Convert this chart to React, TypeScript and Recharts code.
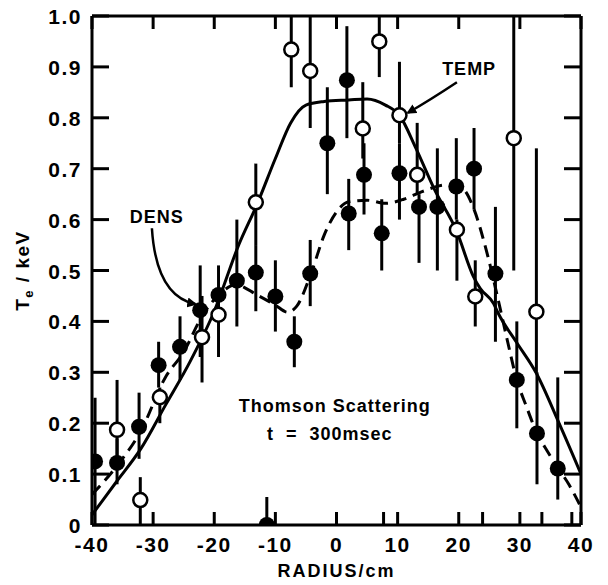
import { ComposedChart, Line, Scatter, ErrorBar, XAxis, YAxis, ReferenceLine } from 'recharts';

// filled circles
const filledX = [-39.5, -35.9, -32.3, -29.1, -25.6, -22.3, -19.3, -16.3, -13.2, -11.4, -10.0, -6.9, -4.3, -1.5, 1.7, 2.0, 4.5, 7.4, 10.3, 13.5, 16.5, 19.6, 22.5, 26.0, 29.5, 32.8, 36.2];
const filledY = [0.125, 0.122, 0.193, 0.314, 0.35, 0.422, 0.452, 0.48, 0.496, 0.0, 0.449, 0.36, 0.494, 0.75, 0.874, 0.612, 0.688, 0.573, 0.691, 0.625, 0.625, 0.665, 0.7, 0.494, 0.285, 0.18, 0.111];
const filledLo = [0.0, 0.08, 0.13, 0.27, 0.285, 0.33, 0.4, 0.39, 0.42, 0.0, 0.38, 0.31, 0.43, 0.65, 0.76, 0.54, 0.61, 0.5, 0.6, 0.515, 0.5, 0.6, 0.62, 0.36, 0.19, 0.08, 0.05];
const filledHi = [0.25, 0.17, 0.26, 0.36, 0.41, 0.51, 0.51, 0.6, 0.55, 0.055, 0.52, 0.41, 0.56, 0.86, 0.98, 0.68, 0.75, 0.64, 0.75, 0.65, 0.74, 0.76, 0.78, 0.625, 0.4, 0.3, 0.29];

// open circles
const openX = [-35.9, -32.1, -28.9, -22.0, -19.3, -13.2, -7.4, -4.3, 4.3, 7.0, 10.3, 13.2, 19.7, 22.7, 29.0, 32.7];
const openY = [0.187, 0.049, 0.251, 0.369, 0.413, 0.634, 0.934, 0.892, 0.779, 0.95, 0.805, 0.688, 0.58, 0.449, 0.76, 0.419];
const openLo = [0.12, 0.0, 0.2, 0.28, 0.33, 0.55, 0.86, 0.78, 0.72, 0.88, 0.75, 0.65, 0.48, 0.39, 0.5, 0.3];
const openHi = [0.285, 0.094, 0.27, 0.45, 0.44, 0.71, 1.0, 1.0, 0.87, 1.0, 0.91, 0.79, 0.6, 0.52, 1.0, 0.74];

// TEMP (solid) curve
const tempX = [-40, -36, -32, -28, -24, -20, -16, -13, -10, -7.5, -5, -2, 2, 5, 8, 10.3, 13, 16, 19.7, 22.4, 23.5, 25.7, 26.5, 29.5, 32.7, 36.3, 40];
const tempY = [0.02, 0.085, 0.15, 0.235, 0.32, 0.42, 0.55, 0.63, 0.72, 0.79, 0.825, 0.832, 0.835, 0.837, 0.825, 0.805, 0.74, 0.66, 0.576, 0.488, 0.465, 0.435, 0.415, 0.358, 0.298, 0.203, 0.1];

// DENS (dashed) curve
const densX = [-40, -36, -32, -28, -25, -22, -19, -16.5, -13, -10, -8, -6.5, -4, -2, 0, 2, 5, 8, 11, 14, 18, 20.5, 22.5, 24.5, 26.5, 28, 29.5, 31, 32.7, 34.5, 36.3, 38, 40];
const densY = [0.06, 0.115, 0.185, 0.29, 0.34, 0.41, 0.455, 0.472, 0.452, 0.432, 0.418, 0.43, 0.5, 0.57, 0.615, 0.635, 0.638, 0.632, 0.64, 0.655, 0.668, 0.662, 0.62, 0.54, 0.44, 0.36, 0.285, 0.235, 0.183, 0.145, 0.111, 0.08, 0.035];

const xTicks = [-40, -30, -20, -10, 0, 7.7, 10, 20, 23.9, 30, 33.6, 38.5, 40];
const xLabels = [-40, -30, -20, -10, 0, 10, 20, 30, 40];
const yTicks = [0, 0.1, 0.2, 0.3, 0.4, 0.5, 0.6, 0.7, 0.8, 0.9, 1.0];
const yTickLabels = ['0', '0.1', '0.2', '0.3', '0.4', '0.5', '0.6', '0.7', '0.8', '0.9', '1.0'];

const W = 608;
const H = 585;
const M = { top: 16, right: 27, bottom: 30, left: 42 };
const Y_AXIS_W = 50;
const X_AXIS_H = 30;
const PLOT_L = M.left + Y_AXIS_W;
const PLOT_T = M.top;
const PLOT_W = W - PLOT_L - M.right;
const PLOT_H = H - M.top - M.bottom - X_AXIS_H;

const FONT = "'Liberation Sans', Arial, sans-serif";

const px = (x: number) => PLOT_L + ((x + 40) / 80) * PLOT_W;
const py = (y: number) => PLOT_T + (1 - y) * PLOT_H;

const filledData = filledX.map((x, i) => ({ x, y: filledY[i], err: [filledY[i] - filledLo[i], filledHi[i] - filledY[i]] }));
const openData = openX.map((x, i) => ({ x, y: openY[i], err: [openY[i] - openLo[i], openHi[i] - openY[i]] }));
const tempData = tempX.map((x, i) => ({ x, y: tempY[i] }));
const densData = densX.map((x, i) => ({ x, y: densY[i] }));

const XTick = (props: any) => {
  const { x, y, payload } = props;
  const major = xLabels.includes(payload.value);
  return (
    <g>
      <line x1={x} x2={x} y1={y} y2={y - 13} stroke="#000" strokeWidth={3} />
      {major && <line x1={x} x2={x} y1={PLOT_T} y2={PLOT_T + 13} stroke="#000" strokeWidth={3} />}
      {major && (
        <text x={x} y={y + 27} textAnchor="middle" fontFamily={FONT} fontWeight="bold" fontSize={21} letterSpacing={1.5} fill="#000">
          {payload.value}
        </text>
      )}
    </g>
  );
};

const YTick = (props: any) => {
  const { x, y, payload } = props;
  const idx = yTicks.indexOf(payload.value);
  return (
    <g>
      <line x1={x} x2={x + 17} y1={y} y2={y} stroke="#000" strokeWidth={3} />
      <line x1={x + PLOT_W - 17} x2={x + PLOT_W} y1={y} y2={y} stroke="#000" strokeWidth={3} />
      <text x={x - 10} y={y + 8} textAnchor="end" fontFamily={FONT} fontWeight="bold" fontSize={21} letterSpacing={1.5} fill="#000">
        {idx >= 0 ? yTickLabels[idx] : payload.value}
      </text>
    </g>
  );
};

const FilledDot = (props: any) => <circle cx={props.cx} cy={props.cy} r={8} fill="#000" />;
const OpenDot = (props: any) => <circle cx={props.cx} cy={props.cy} r={7} fill="#fff" stroke="#000" strokeWidth={2.5} />;

export default function App() {
  const txt = { fontFamily: FONT, fontWeight: 'bold' as const, fill: '#000' };
  return (
    <div style={{ position: 'absolute', left: 0, top: 0, width: W, height: H }}>
      <ComposedChart width={W} height={H} margin={M}>
        <XAxis
          type="number"
          dataKey="x"
          domain={[-40, 40]}
          ticks={xTicks}
          allowDataOverflow
          height={X_AXIS_H}
          axisLine={{ stroke: '#000', strokeWidth: 3 }}
          tickLine={false}
          tickSize={0}
          tickMargin={0}
          tick={<XTick />}
          interval={0}
        />
        <YAxis
          type="number"
          domain={[0, 1]}
          ticks={yTicks}
          allowDataOverflow
          width={Y_AXIS_W}
          axisLine={{ stroke: '#000', strokeWidth: 3 }}
          tickLine={false}
          tickSize={0}
          tickMargin={0}
          tick={<YTick />}
          interval={0}
        />
        <ReferenceLine y={1} stroke="#000" strokeWidth={3} />
        <ReferenceLine x={40} stroke="#000" strokeWidth={3} />
        <Line data={tempData} dataKey="y" type="monotone" stroke="#000" strokeWidth={3} dot={false} isAnimationActive={false} />
        <Line data={densData} dataKey="y" type="monotone" stroke="#000" strokeWidth={3} strokeDasharray="12 7" dot={false} isAnimationActive={false} />
        <Scatter data={filledData} dataKey="y" shape={<FilledDot />} isAnimationActive={false}>
          <ErrorBar dataKey="err" direction="y" width={0} stroke="#000" strokeWidth={3} />
        </Scatter>
        <Scatter data={openData} dataKey="y" shape={<OpenDot />} isAnimationActive={false}>
          <ErrorBar dataKey="err" direction="y" width={0} stroke="#000" strokeWidth={3} />
        </Scatter>
      </ComposedChart>
      <svg width={W} height={H} style={{ position: 'absolute', left: 0, top: 0, pointerEvents: 'none' }}>
        <defs>
          <marker id="ah" markerWidth="10" markerHeight="10" refX="8" refY="5" orient="auto" markerUnits="userSpaceOnUse">
            <path d="M0,0 L10,5 L0,10 Z" fill="#000" />
          </marker>
        </defs>
        <text x={px(21.7)} y={py(0.9) + 8} textAnchor="middle" fontSize={18} letterSpacing={1} {...txt}>TEMP</text>
        <path
          d={`M${px(19.7)},${py(0.87)} Q${px(15.3)},${py(0.835)} ${px(11.7)},${py(0.81)}`}
          fill="none" stroke="#000" strokeWidth={2.5} markerEnd="url(#ah)"
        />
        <text x={px(-29.4)} y={py(0.61) + 8} textAnchor="middle" fontSize={18} letterSpacing={1} {...txt}>DENS</text>
        <path
          d={`M${px(-30.2)},${py(0.583)} Q${px(-29.5)},${py(0.45)} ${px(-23.1)},${py(0.434)}`}
          fill="none" stroke="#000" strokeWidth={2.5} markerEnd="url(#ah)"
        />
        <text x={px(-0.3)} y={py(0.236) + 7} textAnchor="middle" fontSize={18} letterSpacing={1} {...txt}>Thomson Scattering</text>
        <text x={px(-1.1)} y={py(0.18) + 7} textAnchor="middle" fontSize={18} letterSpacing={1} {...txt} xmlSpace="preserve">t  =  300msec</text>
        <text x={PLOT_L + PLOT_W / 2} y={H - 8} textAnchor="middle" fontSize={18} letterSpacing={2} {...txt}>RADIUS/cm</text>
        <text transform={`rotate(-90, 23, ${PLOT_T + PLOT_H / 2})`} x={23} y={PLOT_T + PLOT_H / 2 + 6} textAnchor="middle" fontSize={19} letterSpacing={1.5} {...txt}>
          T<tspan fontSize={13} dy={4}>e</tspan><tspan dy={-4}> / keV</tspan>
        </text>
      </svg>
    </div>
  );
}
